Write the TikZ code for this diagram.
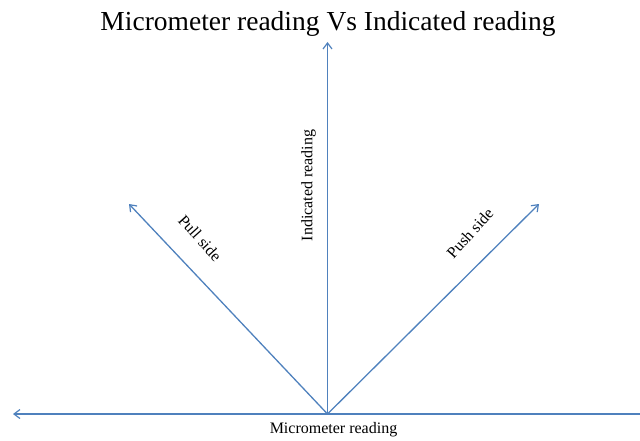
\documentclass[tikz,border=0pt]{standalone}
\usepackage{fontspec}
\setmainfont{Liberation Serif}
\usetikzlibrary{arrows.meta}
\definecolor{axisblue}{RGB}{79,129,189}
\begin{document}
\begin{tikzpicture}[x=1pt,y=-1pt,
  axis/.style={draw=axisblue,line width=1.3pt,-{Straight Barb[length=6pt,width=9pt,line width=1.2pt]}},
  lbl/.style={inner sep=0pt,font=\fontsize{16}{18}\selectfont}]
\useasboundingbox (0,0) rectangle (640,441);
\coordinate (o) at (327.5,414);
\coordinate (west) at (13,414);
\coordinate (east) at (640,414);
\coordinate (north) at (327.5,42);
\coordinate (pull) at (129,204);
\coordinate (push) at (539,204);
\draw[draw=axisblue,line width=1.3pt] (o) -- (east);
\draw[axis] (o) -- (west);
\draw[axis] (o) -- (north);
\draw[axis] (o) -- (pull);
\draw[axis] (o) -- (push);
\node[inner sep=0pt,font=\fontsize{27.5}{30}\selectfont] (title) at (328,24) {Micrometer reading Vs Indicated reading};
\node[lbl] (xlab) at (333.5,430) {Micrometer reading};
\node[lbl,rotate=90] (ylab) at (308.5,185.5) {Indicated reading};
\node[lbl,rotate=-48] (pulllab) at (200,238) {Pull side};
\node[lbl,rotate=48] (pushlab) at (470,233) {Push side};
\end{tikzpicture}
\end{document}
